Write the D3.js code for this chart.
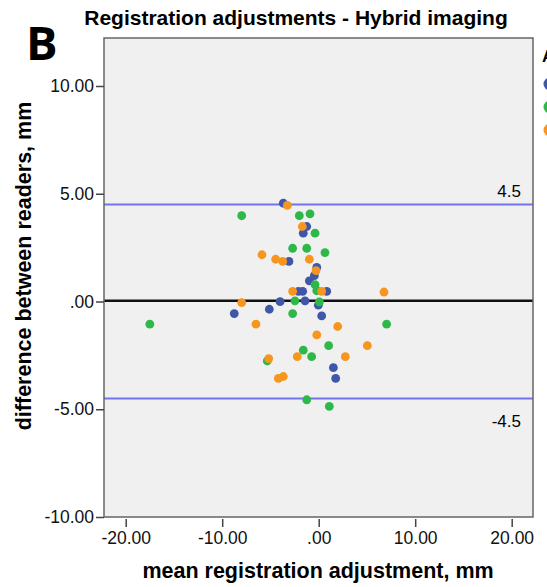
<!DOCTYPE html>
<html>
<head>
<meta charset="utf-8">
<script src="https://cdn.jsdelivr.net/npm/d3@7"></script>
<style>
  body { margin: 0; background: #fff; overflow: hidden; }
  svg { display: block; font-family: "Liberation Sans", Arial, sans-serif; }
</style>
</head>
<body>
<svg id="chart" width="547" height="587"></svg>
<script>
// Groups (legend is cut off at the right edge of the figure)
const groupNames = ["Group 1", "Group 2", "Group 3"];
const groupColors = ["#3f57a9", "#2fb84a", "#f7961f"];

// blue group
const blueX = [-3.67, -1.24, -1.6, -3.08, -0.2, -0.45, -0.97, -2.1, -1.66, 0.83, -4.0, -1.42, -0.04, -8.75, -5.12, 0.31, 1.52, 1.76];
const blueY = [4.56, 3.48, 3.17, 1.86, 1.58, 1.2, 0.96, 0.47, 0.47, 0.47, -0.01, 0.03, -0.17, -0.56, -0.36, -0.67, -3.07, -3.57];

// green group
const greenX = [-17.5, -7.98, -2.01, -0.9, -0.38, -2.7, -1.24, 0.65, -0.38, -0.2, -2.46, 0.07, -2.7, 7.04, 1.03, -1.6, -0.73, -5.33, -1.24, 1.1];
const greenY = [-1.05, 3.98, 3.98, 4.07, 3.17, 2.47, 2.47, 2.27, 0.78, 0.5, 0.03, -0.02, -0.56, -1.05, -2.05, -2.26, -2.56, -2.76, -4.56, -4.87];

// orange group
const orangeX = [-3.25, -1.7, -5.88, -4.46, -3.73, -0.97, -0.28, -2.7, 0.31, -7.98, 6.77, -6.5, 1.97, -0.2, 5.04, -2.22, 2.76, -5.18, -4.18, -3.67];
const orangeY = [4.46, 3.48, 2.17, 1.96, 1.86, 1.96, 1.43, 0.47, 0.47, -0.05, 0.44, -1.05, -1.16, -1.55, -2.05, -2.56, -2.56, -2.65, -3.57, -3.48];

// reference lines: mean difference and limits of agreement
const meanDiff = 0.04;
const limits = [4.5, -4.5];
const limitLabels = ["4.5", "-4.5"];

const xTicks = [-20, -10, 0, 10, 20];
const yTicks = [-10, -5, 0, 5, 10];

const svg = d3.select("#chart");

// plot box
const box = { left: 104, right: 533, top: 38, bottom: 517 };

const x = d3.scaleLinear().domain([-20, 20]).range([125.7, 511.7]);
const y = d3.scaleLinear().domain([-10, 10]).range([517, 86]);

const fmt = v => v === 0 ? ".00" : v.toFixed(2);

// panel letter
svg.append("text")
  .attr("x", 26).attr("y", 60)
  .style("font-family", "'Open Sans', sans-serif")
  .style("font-size", "47px").style("font-weight", "bold")
  .text("B");

// title
svg.append("text")
  .attr("x", 296).attr("y", 25)
  .attr("text-anchor", "middle")
  .style("font-size", "21px").style("font-weight", "bold")
  .text("Registration adjustments - Hybrid imaging");

// background
svg.append("rect")
  .attr("x", box.left).attr("y", box.top)
  .attr("width", box.right - box.left).attr("height", box.bottom - box.top)
  .attr("fill", "#f0f0f0");

// limit lines
svg.selectAll(".limit")
  .data(limits)
  .enter()
  .append("line")
  .attr("x1", box.left).attr("x2", box.right)
  .attr("y1", d => y(d)).attr("y2", d => y(d))
  .attr("stroke", "#7373f2")
  .attr("stroke-width", 2);

// mean line
svg.append("line")
  .attr("x1", box.left).attr("x2", box.right)
  .attr("y1", y(meanDiff)).attr("y2", y(meanDiff))
  .attr("stroke", "#111")
  .attr("stroke-width", 2.5);

// limit labels
svg.selectAll(".limitLabel")
  .data(limits)
  .enter()
  .append("text")
  .attr("x", 521)
  .attr("y", (d, i) => i === 0 ? y(d) - 8 : y(d) + 29)
  .attr("text-anchor", "end")
  .style("font-size", "17px")
  .text((d, i) => limitLabels[i]);

// points
const groups = [
  { name: groupNames[0], color: groupColors[0], xs: blueX, ys: blueY },
  { name: groupNames[1], color: groupColors[1], xs: greenX, ys: greenY },
  { name: groupNames[2], color: groupColors[2], xs: orangeX, ys: orangeY }
];

groups.forEach(g => {
  svg.append("g")
    .selectAll("circle")
    .data(g.xs.map((v, i) => [v, g.ys[i]]))
    .enter()
    .append("circle")
    .attr("cx", d => x(d[0]))
    .attr("cy", d => y(d[1]))
    .attr("r", 4.4)
    .attr("fill", g.color);
});

// box border
svg.append("rect")
  .attr("x", box.left).attr("y", box.top)
  .attr("width", box.right - box.left).attr("height", box.bottom - box.top)
  .attr("fill", "none")
  .attr("stroke", "#666")
  .attr("stroke-width", 1.5);

// axes
const xAxis = svg.append("g")
  .attr("transform", `translate(0,${box.bottom + 2})`)
  .call(d3.axisBottom(x).tickValues(xTicks).tickFormat(fmt).tickSize(8).tickPadding(5));

const yAxis = svg.append("g")
  .attr("transform", `translate(${box.left},0)`)
  .call(d3.axisLeft(y).tickValues(yTicks).tickFormat(fmt).tickSize(8).tickPadding(2));

[xAxis, yAxis].forEach(a => {
  a.select(".domain").remove();
  a.selectAll("line").attr("stroke", "#444").attr("stroke-width", 1.5);
  a.selectAll("text")
    .style("font-family", "'Liberation Sans', Arial, sans-serif")
    .style("font-size", "17.5px")
    .attr("fill", "#111");
});

// axis titles
svg.append("text")
  .attr("x", 318).attr("y", 578)
  .attr("text-anchor", "middle")
  .style("font-size", "21.5px").style("font-weight", "bold")
  .text("mean registration adjustment, mm");

svg.append("text")
  .attr("transform", "translate(31,266) rotate(-90)")
  .attr("text-anchor", "middle")
  .style("font-size", "21.5px").style("font-weight", "bold")
  .text("difference between readers, mm");

// legend (mostly outside the visible area, as in the original)
const legend = svg.append("g").attr("transform", "translate(542,0)");
legend.append("text")
  .attr("x", 0).attr("y", 62)
  .style("font-size", "17px").style("font-weight", "bold")
  .text("Area");
legend.selectAll("circle")
  .data(groups)
  .enter()
  .append("circle")
  .attr("cx", 8)
  .attr("cy", (d, i) => 84 + i * 23)
  .attr("r", 6.5)
  .attr("fill", d => d.color);
legend.selectAll(".lbl")
  .data(groups)
  .enter()
  .append("text")
  .attr("x", 20)
  .attr("y", (d, i) => 89 + i * 23)
  .style("font-size", "14px")
  .text(d => d.name);
</script>
</body>
</html>
